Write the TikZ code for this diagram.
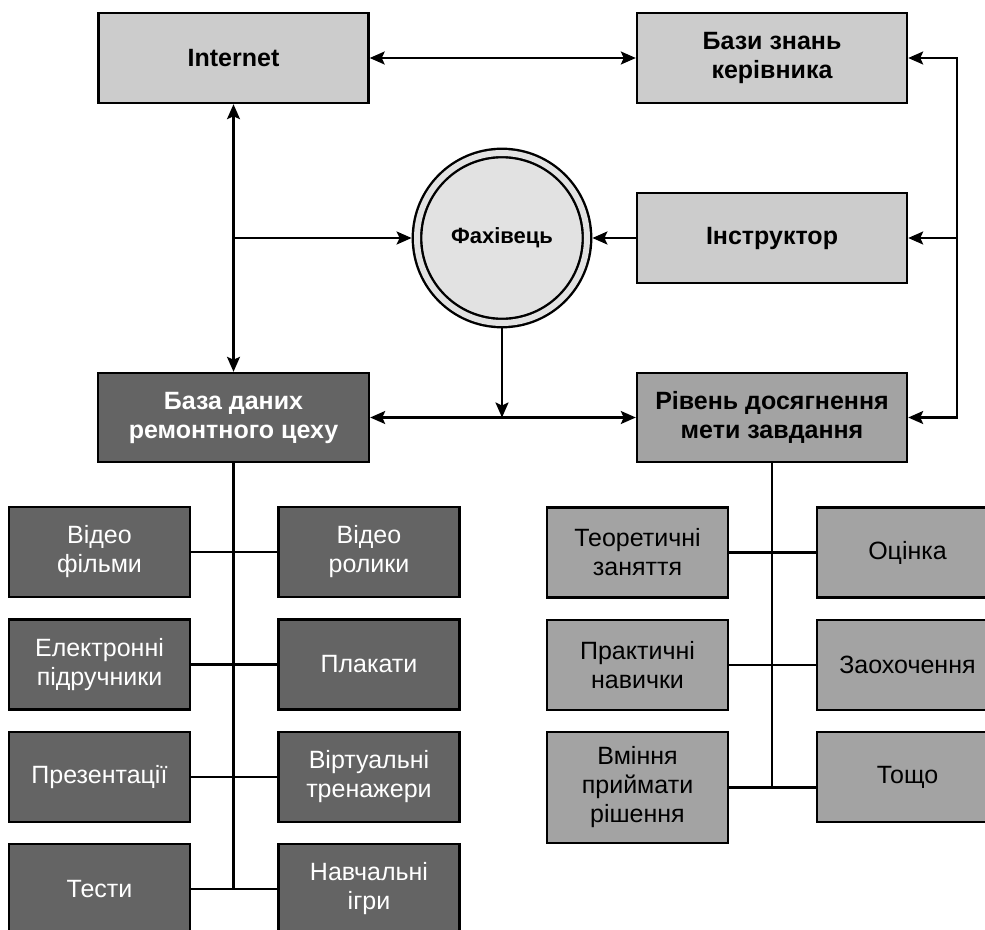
\documentclass[tikz,border=0pt]{standalone}
\usepackage{fontspec}
\setmainfont{Liberation Sans}
\usetikzlibrary{arrows.meta}
\definecolor{lightbox}{HTML}{CCCCCC}
\definecolor{circfill}{HTML}{E2E2E2}
\definecolor{darkbox}{HTML}{646464}
\definecolor{midbox}{HTML}{A3A3A3}
\begin{document}
\begin{tikzpicture}[x=1pt,y=-1pt,
  base/.style={draw=black, line width=2.4pt, inner sep=0pt, align=center},
  topbox/.style={base, fill=lightbox, minimum width=270pt, minimum height=90pt, font=\fontsize{25}{29}\selectfont\bfseries},
  darkbig/.style={base, fill=darkbox, text=white, minimum width=271pt, minimum height=89pt, font=\fontsize{25}{29}\selectfont\bfseries},
  midbig/.style={base, fill=midbox, minimum width=270pt, minimum height=89pt, font=\fontsize{25}{29}\selectfont\bfseries},
  dsmall/.style={base, fill=darkbox, text=white, minimum width=181pt, minimum height=90pt, font=\fontsize{25}{29}\selectfont},
  msmall/.style={base, fill=midbox, minimum width=181pt, minimum height=90pt, font=\fontsize{25}{29}\selectfont},
  circ/.style={circle, draw=black, line width=2.4pt, double=circfill, double distance=6pt, fill=circfill, minimum size=170pt, inner sep=0pt, outer sep=5.4pt, font=\fontsize{22}{26}\selectfont\bfseries},
  conn/.style={line width=2.2pt},
  arr/.style={conn, -{Stealth[length=15pt,width=13pt,inset=3pt]}},
  darr/.style={conn, {Stealth[length=15pt,width=13pt,inset=3pt]}-{Stealth[length=15pt,width=13pt,inset=3pt]}}
]
\useasboundingbox (0,0) rectangle (985,929);

% top part
\node[topbox] (inet) at (233.5,58) {Internet};
\node[topbox] (bazy) at (772,58) {Бази знань\\керівника};
\node[topbox] (instr) at (772,238) {Інструктор};
\node[circ] (fakh) at (502,238) {Фахівець};
\node[darkbig] (bdb) at (233.5,417.5) {База даних\\ремонтного цеху};
\node[midbig] (riv) at (772,417.5) {Рівень досягнення\\мети завдання};

% left column
\node[dsmall] (vf) at (99.5,552) {Відео\\фільми};
\node[dsmall] (vr) at (369,552) {Відео\\ролики};
\node[dsmall] (ep) at (99.5,664.5) {Електронні\\підручники};
\node[dsmall] (pl) at (369,664.5) {Плакати};
\node[dsmall] (pr) at (99.5,777) {Презентації};
\node[dsmall] (vt) at (369,777) {Віртуальні\\тренажери};
\node[dsmall] (ts) at (99.5,889) {Тести};
\node[dsmall] (ni) at (369,889) {Навчальні\\ігри};

% right column
\node[msmall] (tz) at (637.5,552.5) {Теоретичні\\заняття};
\node[msmall] (oc) at (907.5,552.5) {Оцінка};
\node[msmall] (pn) at (637.5,665) {Практичні\\навички};
\node[msmall] (zo) at (907.5,665) {Заохочення};
\node[msmall, minimum height=111pt] (vm) at (637.5,787.5) {Вміння\\приймати\\рішення};
\node[msmall] (to) at (907.5,777) {Тощо};

% coordinates
\coordinate (rtop) at (957,58);
\coordinate (rbot) at (957,417.5);
\coordinate (lj) at (233.5,238);
\coordinate (mj) at (502,417.5);
\coordinate (ls) at (233.5,889);
\coordinate (rs) at (772,787.5);

% connectors top
\draw[darr] (inet) -- (bazy);
\draw[arr] (rbot) -- (rtop) -- (bazy.east);
\draw[arr] (rtop |- instr.east) -- (instr.east);
\draw[arr] (rtop) -- (rbot) -- (riv.east);
\draw[arr] (instr) -- (fakh);
\draw[darr] (inet) -- (bdb);
\draw[arr] (lj) -- (fakh);
\draw[darr] (bdb) -- (riv);
\draw[arr] (fakh) -- (mj);

% left tree
\draw[conn] (bdb.south) -- (ls);
\draw[conn] (vf.east) -- (vr.west);
\draw[conn] (ep.east) -- (pl.west);
\draw[conn] (pr.east) -- (vt.west);
\draw[conn] (ts.east) -- (ni.west);

% right tree
\draw[conn] (riv.south) -- (rs);
\draw[conn] (tz.east) -- (oc.west);
\draw[conn] (pn.east) -- (zo.west);
\draw[conn] (vm.east) -- (vm.east -| to.west);
\end{tikzpicture}
\end{document}
